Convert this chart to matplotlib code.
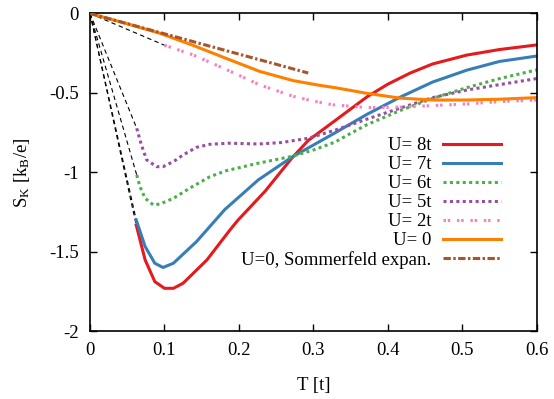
import matplotlib
matplotlib.use("Agg")
import matplotlib.pyplot as plt

plt.rcParams['font.family'] = ['Liberation Serif', 'DejaVu Serif']
plt.rcParams['mathtext.fontset'] = 'custom'
plt.rcParams['mathtext.rm'] = 'Liberation Serif'
plt.rcParams['mathtext.it'] = 'Liberation Serif:italic'
plt.rcParams['axes.unicode_minus'] = False

# ---- data ----
T_u8 = [0.062, 0.074, 0.087, 0.100, 0.112, 0.125, 0.157, 0.188, 0.199, 0.235, 0.271,
        0.293, 0.329, 0.372, 0.400, 0.430, 0.460, 0.506, 0.550, 0.600]
S_u8 = [-1.332, -1.552, -1.689, -1.731, -1.731, -1.699, -1.552, -1.363, -1.300, -1.120, -0.911,
        -0.800, -0.675, -0.525, -0.445, -0.375, -0.318, -0.262, -0.227, -0.198]

T_u7 = [0.062, 0.074, 0.087, 0.098, 0.112, 0.143, 0.181, 0.226, 0.271, 0.329,
        0.372, 0.416, 0.460, 0.506, 0.550, 0.600]
S_u7 = [-1.300, -1.468, -1.573, -1.600, -1.573, -1.437, -1.235, -1.048, -0.905, -0.752,
        -0.635, -0.528, -0.432, -0.357, -0.302, -0.268]

T_u6 = [0.0627, 0.067, 0.074, 0.085, 0.094, 0.112, 0.134, 0.161, 0.183, 0.226, 0.271,
        0.300, 0.329, 0.350, 0.372, 0.416, 0.460, 0.506, 0.550, 0.600]
S_u6 = [-1.017, -1.090, -1.164, -1.206, -1.200, -1.164, -1.100, -1.028, -0.990, -0.943, -0.900,
        -0.860, -0.810, -0.755, -0.700, -0.612, -0.535, -0.467, -0.410, -0.355]

T_u5 = [0.0627, 0.069, 0.076, 0.0895, 0.098, 0.112, 0.125, 0.143, 0.161, 0.186, 0.226,
        0.257, 0.293, 0.329, 0.372, 0.416, 0.460, 0.506, 0.550, 0.600]
S_u5 = [-0.723, -0.828, -0.922, -0.965, -0.965, -0.933, -0.891, -0.843, -0.824, -0.817, -0.822,
        -0.813, -0.786, -0.735, -0.665, -0.597, -0.530, -0.482, -0.448, -0.410]

T_u2 = [0.100, 0.138, 0.184, 0.228, 0.273, 0.300, 0.326, 0.372, 0.416, 0.460, 0.506, 0.550, 0.600]
S_u2 = [-0.200, -0.260, -0.355, -0.450, -0.522, -0.552, -0.575, -0.593, -0.590, -0.580, -0.570,
        -0.555, -0.545]

T_u0 = [0.0, 0.050, 0.094, 0.138, 0.184, 0.228, 0.273, 0.309, 0.330, 0.372, 0.416, 0.460,
        0.506, 0.550, 0.600]
S_u0 = [0.0, -0.065, -0.125, -0.200, -0.285, -0.365, -0.423, -0.453, -0.468, -0.503, -0.533,
        -0.545, -0.545, -0.540, -0.530]

T_som = [0.0, 0.100, 0.200, 0.293]
S_som = [0.0, -0.128, -0.256, -0.375]

labels = ["U= 8t", "U= 7t", "U= 6t", "U= 5t", "U= 2t", "U= 0", "U=0, Sommerfeld expan."]
xticks = [0, 0.1, 0.2, 0.3, 0.4, 0.5, 0.6]
xticklabels = ["0", "0.1", "0.2", "0.3", "0.4", "0.5", "0.6"]
yticks = [-2, -1.5, -1, -0.5, 0]
yticklabels = ["-2", "-1.5", "-1", "-0.5", "0"]

# ---- figure ----
fig = plt.figure(figsize=(5.54, 3.99), dpi=100)
ax = fig.add_axes([0.1625, 0.1704, 0.8065, 0.7958])

FS = 13.5
lw = 2.2

# thin dashed guide lines from the origin to the first point of each curve
for T, S in [(T_u8, S_u8), (T_u7, S_u7), (T_u6, S_u6), (T_u5, S_u5), (T_u2, S_u2)]:
    ax.plot([0, T[0]], [0, S[0]], color='black', lw=0.8, dashes=(4, 3), zorder=1)

ax.plot(T_u8, S_u8, color='#e41a1c', lw=lw, label=labels[0], zorder=2)
ax.plot(T_u7, S_u7, color='#377eb8', lw=lw, label=labels[1], zorder=2)
l6, = ax.plot(T_u6, S_u6, color='#4daf4a', lw=lw, label=labels[2], zorder=2)
l6.set_dashes((1, 1.1)); l6.set_dash_capstyle('butt')
l5, = ax.plot(T_u5, S_u5, color='#984ea3', lw=lw, label=labels[3], zorder=2)
l5.set_dashes((1, 1.1)); l5.set_dash_capstyle('butt')
l2, = ax.plot(T_u2, S_u2, color='#f781bf', lw=lw, label=labels[4], zorder=2)
l2.set_dashes((0.8, 0.6, 0.8, 2.2)); l2.set_dash_capstyle('butt')
ax.plot(T_u0, S_u0, color='#ff7f00', lw=lw, label=labels[5], zorder=2)
ls, = ax.plot(T_som, S_som, color='#a65628', lw=lw, label=labels[6], zorder=3)
ls.set_dashes((2.4, 0.8, 0.8, 0.8)); ls.set_dash_capstyle('butt')

ax.set_xlim(0, 0.6)
ax.set_ylim(-2, 0)
ax.set_xticks(xticks)
ax.set_xticklabels(xticklabels, fontsize=FS)
ax.set_yticks(yticks)
ax.set_yticklabels(yticklabels, fontsize=FS)
ax.tick_params(direction='in', length=5, width=1.0, top=True, right=True, pad=8)
for sp in ax.spines.values():
    sp.set_linewidth(1.2)

ax.set_xlabel("T [t]", fontsize=FS, labelpad=13)
ax.set_ylabel(r"S$_\mathrm{K}$ [k$_\mathrm{B}$/e]", fontsize=FS, labelpad=12)

leg = ax.legend(loc='upper right', bbox_to_anchor=(0.919, 0.611), frameon=False,
                markerfirst=False, fontsize=FS, handlelength=3.1, handletextpad=0.6,
                labelspacing=0.1, borderpad=0, borderaxespad=0)

fig.savefig("out.png", dpi=100)
